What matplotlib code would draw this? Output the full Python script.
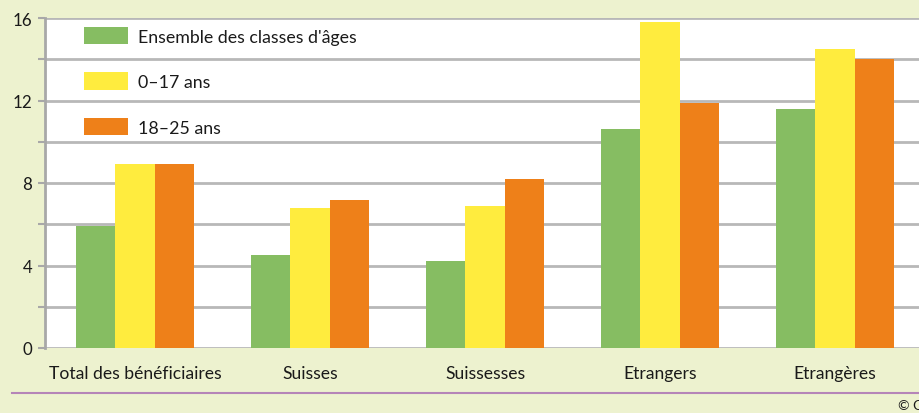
import matplotlib.pyplot as plt
import numpy as np
from matplotlib.lines import Line2D

categories = ["Total des bénéficiaires", "Suisses", "Suissesses", "Etrangers", "Etrangères"]
ensemble = [5.9, 4.5, 4.2, 10.6, 11.6]
ans_0_17 = [8.9, 6.8, 6.9, 15.8, 14.5]
ans_18_25 = [8.9, 7.2, 8.2, 11.9, 14.0]
series_labels = ["Ensemble des classes d'âges", "0–17 ans", "18–25 ans"]
colors = ["#86bd62", "#ffec3e", "#ee8019"]

plt.rcParams['font.family'] = ['Lato', 'DejaVu Sans']

bg = "#edf2cf"
grid_col = "#b8b8b8"

fig = plt.figure(figsize=(9.2, 4.14), dpi=100, facecolor=bg)
ax = fig.add_axes([45 / 920, 65 / 414, 875 / 920, 330 / 414])
ax.set_facecolor("white")

x = np.arange(len(categories))
w = 0.226
for i, vals in enumerate([ensemble, ans_0_17, ans_18_25]):
    ax.bar(x + (i - 1) * w, vals, w, color=colors[i], label=series_labels[i], zorder=3)

ax.set_xlim(-0.515, 4.485)
ax.set_ylim(0, 16)
ax.set_yticks([0, 4, 8, 12, 16])
ax.set_yticks(np.arange(0, 17, 2), minor=True)
ax.yaxis.grid(True, which='both', color=grid_col, linewidth=2, zorder=0)
ax.set_axisbelow(True)

for s in ["top", "right", "bottom"]:
    ax.spines[s].set_visible(False)
ax.spines["left"].set_color("#a8a8a8")
ax.spines["left"].set_linewidth(2)

ax.tick_params(axis='y', which='both', length=5, width=1.5, color="#a8a8a8",
               labelsize=12.2, pad=4, labelcolor="#1a1a1a")
ax.tick_params(axis='x', length=0, labelsize=12.6, pad=12, labelcolor="#1a1a1a")
ax.set_xticks(x)
ax.set_xticklabels(categories)

leg = ax.legend(loc='upper left', bbox_to_anchor=(39 / 875, 1 - 9 / 330), frameon=False,
                fontsize=12.8, handlelength=2.47, handleheight=1.12, labelspacing=1.56,
                handletextpad=0.55, borderpad=0, borderaxespad=0)
for t in leg.get_texts():
    t.set_color("#1a1a1a")

fig.add_artist(Line2D([12 / 920, 1], [1 - 394 / 414, 1 - 394 / 414], color="#b585b8",
                      linewidth=1.5, transform=fig.transFigure))
fig.text(898 / 920, 1 - 406 / 414, "© OFS", fontsize=10, color="#1a1a1a", va='center')

fig.savefig("out.png", dpi=100, facecolor=bg)
